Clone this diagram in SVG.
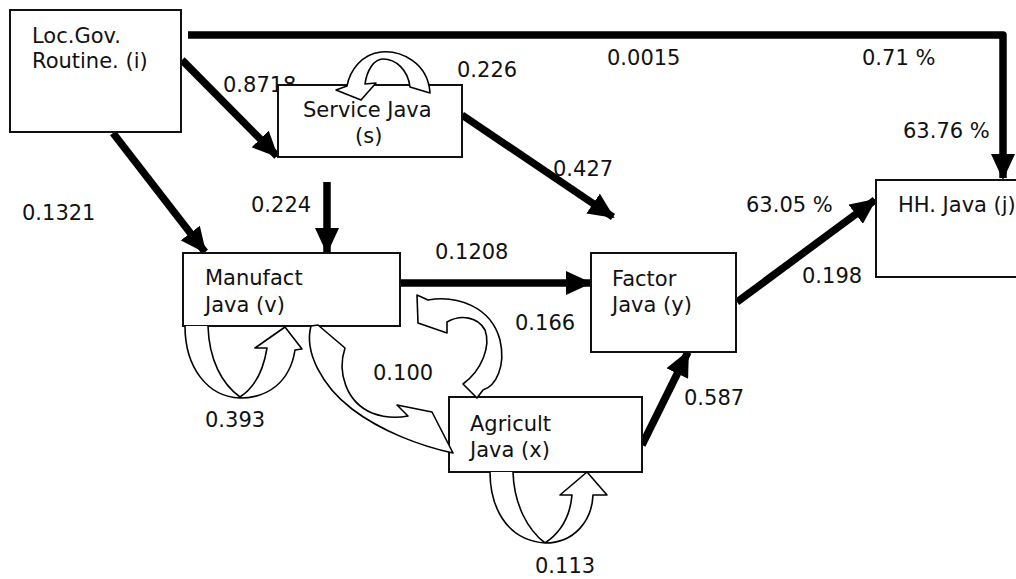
<svg xmlns="http://www.w3.org/2000/svg" width="1016" height="579" viewBox="0 0 1016 579">
  <defs>
    <style>
      text { font-family: "DejaVu Sans", Verdana, sans-serif; font-size: 21px; fill: #111; }
      .box { fill: #fff; stroke: #111; stroke-width: 2; }
      .flow { fill: none; stroke: #000; stroke-width: 7.5; }
      .block { fill: #fff; stroke: #000; stroke-width: 1.6; stroke-linejoin: round; }
    </style>
    <marker id="head" viewBox="0 0 26 24" refX="24" refY="12" markerWidth="26" markerHeight="24" markerUnits="userSpaceOnUse" orient="auto">
      <path d="M0,0 L26,12 L0,24 Z" fill="#000"/>
    </marker>
  </defs>

  <rect width="1016" height="579" fill="#fff"/>

  <!-- labels that sit behind boxes -->
  <text x="223" y="92">0.8718</text>

  <!-- thick flow connectors -->
  <g id="connectors">
    <path class="flow" d="M188,35 L1003,35 L1003,178" stroke-linejoin="round" marker-end="url(#head)"/>
    <line class="flow" x1="182" y1="60" x2="277" y2="156" marker-end="url(#head)"/>
    <line class="flow" x1="113" y1="133" x2="205" y2="252" marker-end="url(#head)"/>
    <line class="flow" x1="327" y1="182" x2="327" y2="252" marker-end="url(#head)"/>
    <line class="flow" x1="462" y1="115" x2="613" y2="217" marker-end="url(#head)"/>
    <line class="flow" x1="400" y1="283" x2="590" y2="283" marker-end="url(#head)"/>
    <line class="flow" x1="737" y1="302" x2="875" y2="200" marker-end="url(#head)"/>
    <line class="flow" x1="642" y1="445" x2="688" y2="352" marker-end="url(#head)"/>
  </g>

  <g id="node-locgov">
    <rect class="box" x="10" y="10" width="171" height="122"/>
    <text x="32" y="43">Loc.Gov.</text>
    <text x="32" y="68">Routine. (i)</text>
  </g>

  <g id="node-service">
    <rect class="box" x="278" y="85" width="184" height="72"/>
    <text x="303" y="117">Service Java</text>
    <text x="355" y="143">(s)</text>
    <path class="block" d="M430,93 C428,62 400,50 381,52 C362,54 350,70 347,86 L336,90 L361,100 L376,83 L365,84 C367,70 374,59 383,59 C396,59 408,70 410,87 Z"/>
  </g>

  <g id="node-hh">
    <rect class="box" x="876" y="180" width="160" height="97"/>
    <text x="898" y="212">HH. Java (j)</text>
  </g>

  <g id="node-manufact">
    <rect class="box" x="183" y="253" width="217" height="73"/>
    <text x="205" y="285">Manufact</text>
    <text x="205" y="312">Java (v)</text>
    <path class="block" d="M185,326 C185,368 208,397 240,398 C268,398 290,382 295,350 L302,349 L285,327 L255,348 L267,348 C263,373 254,388 240,397 C222,384 209,360 208,326"/>
  </g>

  <g id="node-factor">
    <rect class="box" x="591" y="253" width="145" height="99"/>
    <text x="612" y="286">Factor</text>
    <text x="612" y="312">Java (y)</text>
  </g>

  <g id="node-agricult">
    <rect class="box" x="449" y="397" width="193" height="75"/>
    <text x="470" y="431">Agricult</text>
    <text x="470" y="457">Java (x)</text>
    <path class="block" d="M490,472 C490,505 505,540 545,543 C575,543 592,520 593,495 L607,495 L587,472 L560,495 L572,495 C570,518 560,533 545,543 C528,530 514,505 513,472"/>
  </g>

  <!-- curved block arrows between Manufact and Agricult -->
  <g id="exchange">
    <path class="block" d="M311,326 L318,325 L345,348 C337,372 346,402 372,413 C385,418 398,418 408,416 L397,405 L432,412 L453,453 C420,446 381,431 352,409 C322,386 304,352 311,326 Z"/>
    <path class="block" d="M477,398 L463,384 C482,370 491,346 485,330 C478,317 461,314 447,322 L447,333 L418,323 L417,295 L428,300 C456,295 491,306 500,340 C506,366 496,386 483,390 Z"/>
  </g>

  <!-- coefficient labels -->
  <g id="labels">
    <text x="457" y="77">0.226</text>
    <text x="607" y="65">0.0015</text>
    <text x="862" y="65">0.71 %</text>
    <text x="903" y="138">63.76 %</text>
    <text x="553" y="176">0.427</text>
    <text x="746" y="212">63.05 %</text>
    <text x="802" y="283">0.198</text>
    <text x="22" y="220">0.1321</text>
    <text x="251" y="212">0.224</text>
    <text x="435" y="259">0.1208</text>
    <text x="515" y="330">0.166</text>
    <text x="373" y="380">0.100</text>
    <text x="205" y="427">0.393</text>
    <text x="684" y="405">0.587</text>
    <text x="535" y="573">0.113</text>
  </g>
</svg>
